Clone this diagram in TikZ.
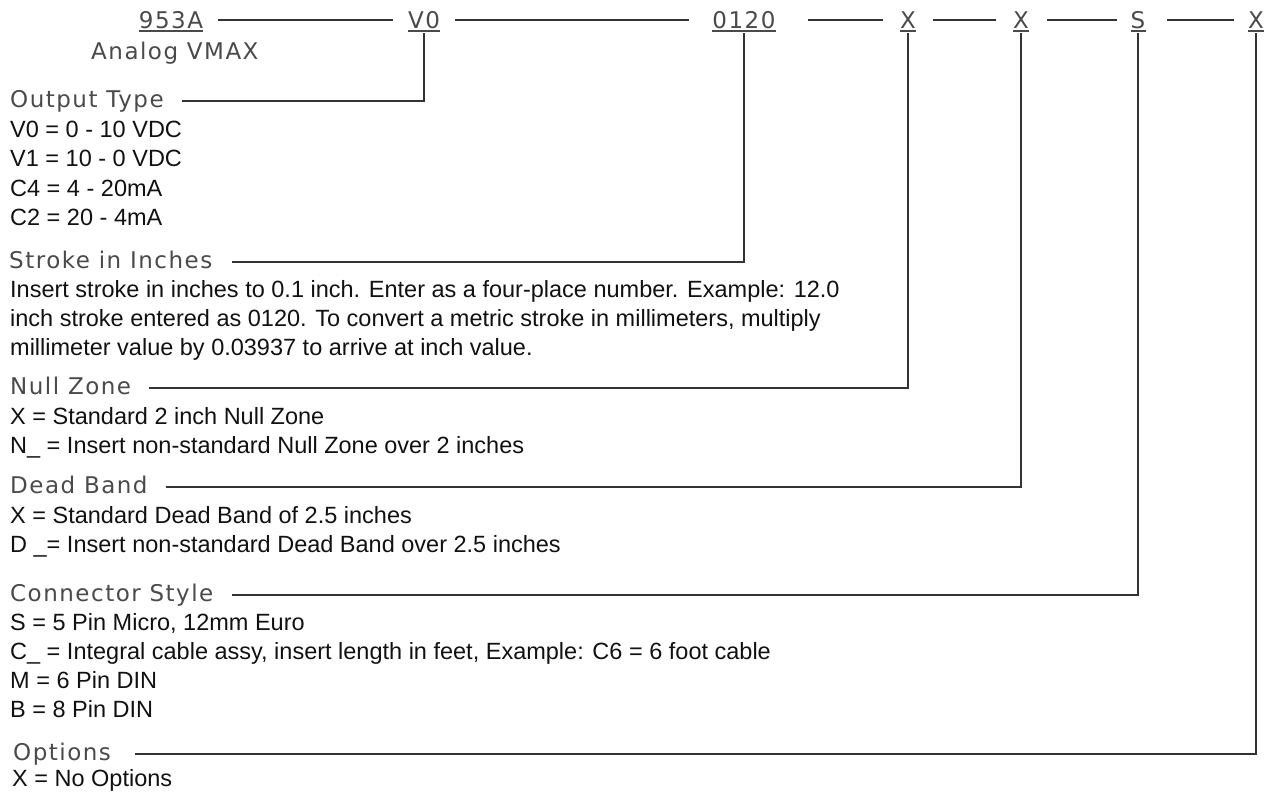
\documentclass[tikz,border=0pt]{standalone}
\usepackage{fontspec}
\setmainfont{Liberation Sans}
\newfontfamily\headfont[LetterSpace=6.5]{DejaVu Sans}
\definecolor{headgray}{HTML}{4A4A4A}
\definecolor{bodyblack}{HTML}{111111}
\definecolor{linegray}{HTML}{333333}
\tikzset{
  code/.style={anchor=base, inner sep=0pt, font=\headfont\fontsize{23}{26}\selectfont, text=headgray},
  head/.style={anchor=base west, inner sep=0pt, font=\headfont\fontsize{23}{26}\selectfont, text=headgray},
  body/.style={anchor=base west, inner sep=0pt, font=\fontsize{23.5}{28}\selectfont, text=bodyblack},
  conn/.style={draw=linegray, line width=1.3pt},
  uline/.style={draw=headgray, line width=1.2pt},
}
\begin{document}
\begin{tikzpicture}[x=1pt,y=-1pt]
\useasboundingbox (0,0) rectangle (1269,793);
% top row codes
\node[code] (c1) at (171,28) {953A};
\node[code] (c2) at (424,28) {V0};
\node[code] (c3) at (744,28) {0120};
\node[code] (c4) at (908,28) {X};
\node[code] (c5) at (1021,28) {X};
\node[code] (c6) at (1138,28) {S};
\node[code] (c7) at (1256,28) {X};
\foreach \c in {c1,c2,c3,c4,c5,c6,c7}
  \draw[uline] ([yshift=-3pt]\c.base west) -- ([yshift=-3pt]\c.base east);
% top row joining lines
\draw[conn] ([xshift=15pt,yshift=8pt]c1.base east) -- ([xshift=-15pt,yshift=8pt]c2.base west);
\draw[conn] ([xshift=15pt,yshift=8pt]c2.base east) -- ([xshift=-23pt,yshift=8pt]c3.base west);
\draw[conn] ([xshift=32pt,yshift=8pt]c3.base east) -- ([xshift=-17pt,yshift=8pt]c4.base west);
\draw[conn] ([xshift=17pt,yshift=8pt]c4.base east) -- ([xshift=-17pt,yshift=8pt]c5.base west);
\draw[conn] ([xshift=18pt,yshift=8pt]c5.base east) -- ([xshift=-14pt,yshift=8pt]c6.base west);
\draw[conn] ([xshift=21pt,yshift=8pt]c6.base east) -- ([xshift=-14pt,yshift=8pt]c7.base west);

\node[head] (vmax) at (91,59) {Analog VMAX};

% Output type
\node[head] (hOut) at (10,107) {Output Type};
\node[body] (o1) at (10,137) {V0 = 0 - 10 VDC};
\node[body] (o2) at (10,166) {V1 = 10 - 0 VDC};
\node[body] (o3) at (10,196) {C4 = 4 - 20mA};
\node[body] (o4) at (10,225) {C2 = 20 - 4mA};

% Stroke
\node[head] (hStroke) at (9,268) {Stroke in Inches};
\node[body] (s1) at (10,297) {Insert stroke in inches to 0.1 inch. Enter as a four-place number. Example: 12.0};
\node[body] (s2) at (10,326) {inch stroke entered as 0120. To convert a metric stroke in millimeters, multiply};
\node[body] (s3) at (10,355) {millimeter value by 0.03937 to arrive at inch value.};

% Null zone
\node[head] (hNull) at (10,394) {Null Zone};
\node[body] (n1) at (10,424) {X = Standard 2 inch Null Zone};
\node[body] (n2) at (10,453) {N\_ = Insert non-standard Null Zone over 2 inches};

% Dead band
\node[head] (hDead) at (10,493) {Dead Band};
\node[body] (d1) at (10,523) {X = Standard Dead Band of 2.5 inches};
\node[body] (d2) at (10,552) {D \_= Insert non-standard Dead Band over 2.5 inches};

% Connector
\node[head] (hConn) at (10,601) {Connector Style};
\node[body] (k1) at (10,630) {S = 5 Pin Micro, 12mm Euro};
\node[body] (k2) at (10,659) {C\_ = Integral cable assy, insert length in feet, Example: C6 = 6 foot cable};
\node[body] (k3) at (10,688) {M = 6 Pin DIN};
\node[body] (k4) at (10,717) {B = 8 Pin DIN};

% Options
\node[head] (hOpt) at (13,760) {Options};
\node[body] (p1) at (12,786) {X = No Options};

% leader lines
\draw[conn] ([xshift=18pt,yshift=6pt]hOut.base east) -| ([yshift=-5pt]c2.base);
\draw[conn] ([xshift=20pt,yshift=6pt]hStroke.base east) -| ([yshift=-5pt]c3.base);
\draw[conn] ([xshift=18pt,yshift=6pt]hNull.base east) -| ([yshift=-5pt]c4.base);
\draw[conn] ([xshift=18pt,yshift=6pt]hDead.base east) -| ([yshift=-5pt]c5.base);
\draw[conn] ([xshift=18pt,yshift=6pt]hConn.base east) -| ([yshift=-5pt]c6.base);
\draw[conn] ([xshift=24pt,yshift=6pt]hOpt.base east) -| ([yshift=-5pt]c7.base);
\end{tikzpicture}
\end{document}
